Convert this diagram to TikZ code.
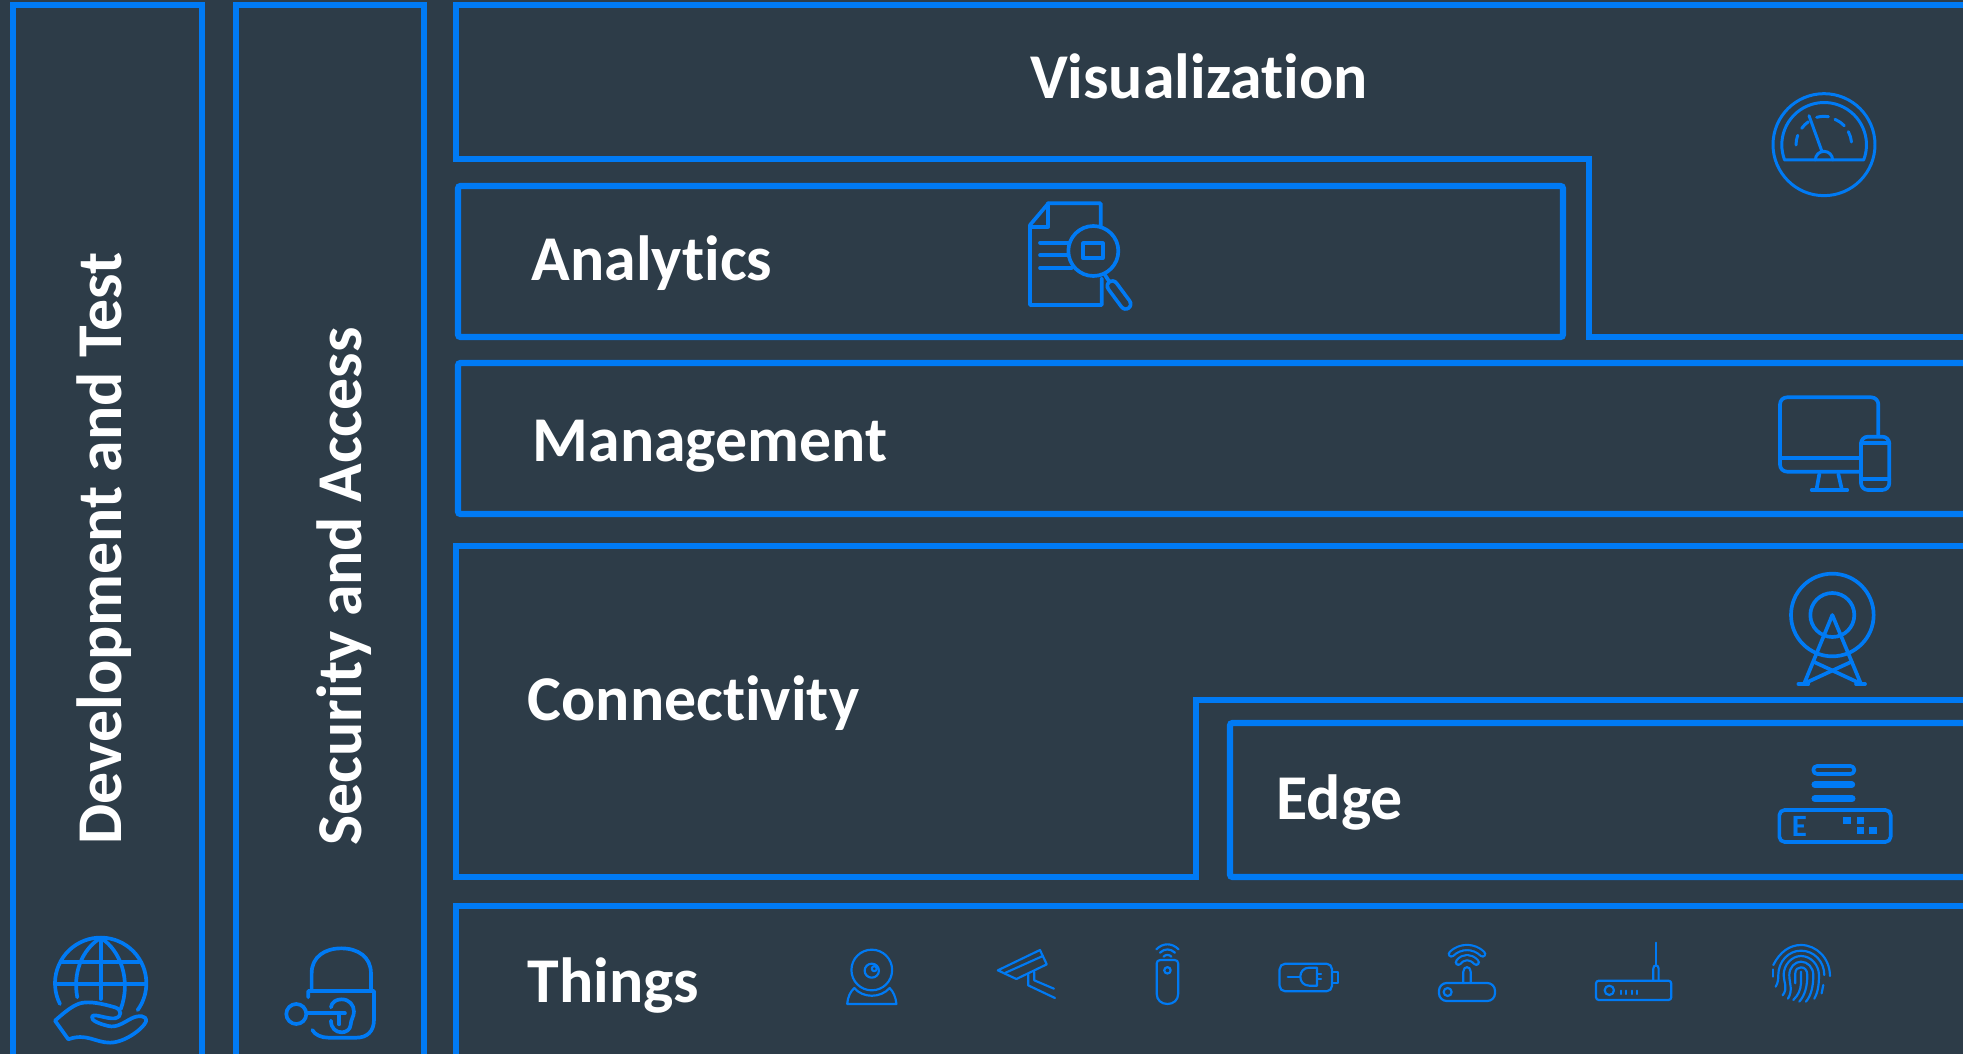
\documentclass[tikz,border=0pt]{standalone}
\usepackage{fontspec}
\setmainfont[Ligatures=NoCommon]{Carlito}
\definecolor{slatefill}{RGB}{45,60,72}
\definecolor{layerblue}{RGB}{0,122,244}
\tikzset{
  layer/.style={draw=layerblue,line width=1.75pt,miter limit=10},
  softlayer/.style={layer,rounded corners=0.7pt},
  title/.style={text=white,font=\fontsize{18.15}{20}\selectfont\bfseries,inner sep=0pt},
  icon/.style={draw=layerblue,line width=1.05pt,line cap=round,line join=round},
  thinicon/.style={icon,line width=0.62pt},
  iconarea/.style 2 args={shift={(#1,#2)},scale=0.3333}
}
\begin{document}
\begin{tikzpicture}[x=0.01cm,y=-0.01cm]
  \path[fill=slatefill,use as bounding box] (0,0) rectangle (1963,1054);

  \draw[layer] (13,1054) -- (13,5) -- (202,5) -- (202,1054);
  \draw[layer] (236,1054) -- (236,5) -- (424,5) -- (424,1054);
  \draw[layer] (1963,5) -- (456,5) -- (456,159) -- (1589,159) -- (1589,337) -- (1963,337);
  \draw[softlayer] (458,186) rectangle (1563,337);
  \draw[softlayer] (1963,363) -- (458,363) -- (458,514) -- (1963,514);
  \draw[layer] (1963,546) -- (456,546) -- (456,877) -- (1196,877) -- (1196,700) -- (1963,700);
  \draw[softlayer] (1963,723) -- (1230,723) -- (1230,877) -- (1963,877);
  \draw[layer] (1963,906) -- (456,906) -- (456,1054);

  \node[title,anchor=base] (visualization) at (1199,98) {Visualization};
  \node[title,anchor=base west] (analytics) at (531,280) {Analytics};
  \node[title,anchor=base west] (management) at (532,461) {Management};
  \node[title,anchor=base west] (connectivity) at (527,720) {Connectivity};
  \node[title,anchor=base west] (edge) at (1276,819) {Edge};
  \node[title,anchor=base west] (things) at (527,1002) {Things};
  \node[title,anchor=base west,rotate=90] (devtest) at (121,845) {Development and Test};
  \node[title,anchor=base west,rotate=90] (security) at (361,846) {Security and Access};

  \begin{scope}[iconarea={0}{900}]
    \draw[icon] (180,312) arc[start angle=153,end angle=396,radius=137];
    \draw[icon] (302,113) -- (302,297);
    \draw[icon] (185,185) -- (418,185);
    \draw[icon] (168,253) -- (436,253);
    \draw[icon] (300,115) .. controls (245,150) and (218,220) .. (232,292);
    \draw[icon] (304,115) .. controls (360,150) and (395,240) .. (362,328);
    \draw[icon] (165,362) -- (205,418) .. controls (260,398) and (285,428) .. (330,428) .. controls (375,428) and (430,385) .. (438,365) .. controls (442,345) and (415,345) .. (395,355) .. controls (370,368) and (350,384) .. (325,378) .. controls (300,372) and (272,362) .. (276,350) .. controls (280,338) and (320,358) .. (345,355) .. controls (368,350) and (365,328) .. (345,322) .. controls (310,312) and (270,302) .. (240,310) .. controls (215,318) and (190,340) .. (165,362);

    \draw[icon] (935,270) -- (935,220) .. controls (935,170) and (975,145) .. (1024,145) .. controls (1073,145) and (1113,170) .. (1113,220) -- (1113,272);
    \draw[icon] (925,292) -- (925,273) -- (1122,273) -- (1122,360) .. controls (1122,395) and (1100,413) .. (1070,413) -- (985,413) .. controls (965,413) and (945,405) .. (937,390);
    \draw[icon] (889,342) circle [radius=30];
    \draw[icon] (920,340) -- (1035,340);
    \draw[icon] (1018,340) -- (1018,373);
    \draw[icon] (993,322) .. controls (995,305) and (1010,298) .. (1025,298) .. controls (1048,298) and (1062,315) .. (1062,335) .. controls (1062,350) and (1052,360) .. (1052,375) .. controls (1050,390) and (1038,397) .. (1025,397) .. controls (1008,397) and (993,385) .. (993,362);
  \end{scope}

  \begin{scope}[iconarea={820}{920},xscale=1.0714]
    \draw[thinicon] (145,150) ellipse [x radius=57,y radius=61];
    \draw[thinicon] (145,152) ellipse [x radius=20,y radius=21];
    \draw[thinicon] (152,146) ellipse [x radius=7,y radius=7.5];
    \draw[thinicon] (76,252) -- (214,252) .. controls (212,230) and (205,215) .. (195,204) .. controls (170,235) and (120,235) .. (96,204) .. controls (85,215) and (78,230) .. (76,252);

    \draw[thinicon] (498,151) -- (616,90) -- (635,133) -- (550,177) -- cycle;
    \draw[thinicon] (520,158) -- (624,108);
    \draw[thinicon] (583,163) -- (583,196) -- (658,234);
    \draw[thinicon] (600,155) -- (600,181) -- (655,206);

    \draw[thinicon] (943,130) .. controls (943,124) and (947,120) .. (953,120) -- (993,120) .. controls (999,120) and (1003,124) .. (1003,130) -- (1003,222) .. controls (1003,240) and (990,252) .. (973,252) .. controls (956,252) and (943,240) .. (943,222) -- cycle;
    \draw[thinicon] (973,151) ellipse [x radius=9,y radius=9.6];
    \draw[thinicon] (942,88) .. controls (960,68) and (986,68) .. (1004,88);
    \draw[thinicon] (952,98) .. controls (965,85) and (981,85) .. (994,98);
    \draw[thinicon] (962,110) .. controls (968,103) and (978,103) .. (984,110);

    \draw[thinicon,rounded corners=1.6pt] (1287,131) rectangle (1434,214);
    \draw[thinicon] (1434,156) rectangle (1451,189);
    \draw[thinicon] (1310,170) -- (1345,170);
    \draw[thinicon] (1392,143) -- (1370,143) .. controls (1355,143) and (1345,155) .. (1345,170) .. controls (1345,185) and (1355,197) .. (1370,197) -- (1392,197) -- cycle;
    \draw[thinicon] (1392,162) -- (1403,162);
    \draw[thinicon] (1392,178) -- (1403,178);
  \end{scope}

  \begin{scope}[iconarea={1380}{920}]
    \draw[thinicon,rounded corners=2.2pt] (177,189) rectangle (345,243);
    \draw[thinicon] (203,216) circle [radius=12];
    \draw[thinicon] (250,189) -- (250,155) .. controls (250,137) and (272,137) .. (272,155) -- (272,189);
    \draw[thinicon,double=slatefill,double distance=0.85pt] (214,102) .. controls (240,76) and (282,76) .. (308,102);
    \draw[thinicon,double=slatefill,double distance=0.85pt] (235,127) .. controls (250,108) and (272,108) .. (289,127);

    \draw[thinicon,rounded corners=0.8pt] (648,182) rectangle (874,240);
    \draw[thinicon] (688,211) circle [radius=14];
    \draw[thinicon] (722,212) -- (722,222);
    \draw[thinicon] (737,212) -- (737,222);
    \draw[thinicon] (757,212) -- (757,222);
    \draw[thinicon] (771,212) -- (771,222);
    \draw[thinicon] (828,68) -- (828,136);
    \draw[thinicon] (820,182) -- (820,146) .. controls (820,133) and (836,133) .. (836,146) -- (836,182);

    \draw[thinicon] (1180,135) .. controls (1200,95) and (1230,75) .. (1263,75) .. controls (1310,75) and (1350,115) .. (1350,168);
    \draw[thinicon] (1178,148) -- (1178,170);
    \draw[thinicon] (1187,200) .. controls (1195,188) and (1195,175) .. (1195,165) .. controls (1195,125) and (1225,92) .. (1263,92) .. controls (1303,92) and (1333,125) .. (1333,165);
    \draw[thinicon] (1330,195) -- (1325,220);
    \draw[thinicon] (1208,226) .. controls (1225,205) and (1211,185) .. (1211,165) .. controls (1211,135) and (1235,108) .. (1263,108) .. controls (1293,108) and (1317,135) .. (1317,165) .. controls (1317,190) and (1315,215) .. (1303,236);
    \draw[thinicon] (1224,236) .. controls (1240,210) and (1228,190) .. (1228,165) .. controls (1228,142) and (1245,125) .. (1263,125) .. controls (1283,125) and (1300,142) .. (1300,165) .. controls (1300,195) and (1295,225) .. (1278,245);
    \draw[thinicon] (1246,190) -- (1246,160) .. controls (1246,148) and (1254,142) .. (1263,142) .. controls (1274,142) and (1282,150) .. (1282,165) .. controls (1282,200) and (1275,225) .. (1258,245);
    \draw[thinicon] (1263,155) -- (1263,190) .. controls (1262,210) and (1255,225) .. (1240,240);
  \end{scope}

  \begin{scope}[iconarea={1740}{60}]
    \draw[icon,line width=0.85pt] (252,254) circle [radius=153];
    \draw[icon,line width=0.85pt] (133,300) -- (371,300) arc[start angle=21,end angle=-201,radius=127] -- cycle;
    \draw[icon,line width=0.85pt] (168,255) arc[start angle=180,end angle=200,radius=85];
    \draw[icon,line width=0.85pt] (185,205) arc[start angle=216,end angle=235,radius=85];
    \draw[icon,line width=0.85pt] (230,172) arc[start angle=255,end angle=279,radius=85];
    \draw[icon,line width=0.85pt] (285,178) arc[start angle=293,end angle=316,radius=85];
    \draw[icon,line width=0.85pt] (325,215) arc[start angle=332,end angle=354,radius=85];
    \draw[icon,line width=0.85pt] (207,167) -- (245,272);
    \draw[icon,line width=0.85pt] (226,300) arc[start angle=180,end angle=360,radius=26];
  \end{scope}

  \begin{scope}[iconarea={1010}{180}]
    \draw[icon] (272,140) -- (272,70) -- (115,70) -- (60,135) -- (60,375) -- (275,375) -- (275,295);
    \draw[icon] (115,70) -- (115,140) -- (60,140);
    \draw[icon] (90,188) -- (175,188);
    \draw[icon] (90,226) -- (172,226);
    \draw[icon] (90,264) -- (185,264);
    \draw[icon] (250,213) circle [radius=75];
    \draw[icon] (220,190) rectangle (278,235);
    \draw[icon] (285,285) -- (298,305);
    \draw[icon,double=slatefill,double distance=1.8pt] (307,318) -- (347,372);
  \end{scope}

  \begin{scope}[iconarea={1760}{380}]
    \draw[icon,rounded corners=2pt] (298,275) -- (60,275) -- (60,52) -- (355,52) -- (355,165);
    \draw[icon] (60,233) -- (298,233);
    \draw[icon] (178,282) -- (170,326);
    \draw[icon] (235,282) -- (245,326);
    \draw[icon] (155,330) -- (262,330);
    \draw[icon,rounded corners=2pt] (303,170) rectangle (388,330);
    \draw[icon] (303,190) -- (388,190);
    \draw[icon] (303,298) -- (388,298);
  \end{scope}

  \begin{scope}[iconarea={1760}{560}]
    \draw[icon] (217,165) circle [radius=124];
    \draw[icon] (217,165) circle [radius=66];
    \draw[icon] (132,372) -- (217,165) -- (303,372);
    \draw[icon] (115,372) -- (145,372);
    \draw[icon] (288,372) -- (315,372);
    \draw[icon] (160,305) -- (300,370);
    \draw[icon] (275,305) -- (134,370);
    \draw[icon,rounded corners=1.1pt] (160,618) rectangle (283,642);
    \draw[icon,line width=2pt] (165,674) -- (275,674);
    \draw[icon,line width=2pt] (165,716) -- (276,716);
    \draw[icon,rounded corners=1.5pt] (58,750) rectangle (392,846);
    \fill[layerblue] (250,772) rectangle (272,792);
    \fill[layerblue] (291,772) rectangle (312,792);
    \fill[layerblue] (291,802) rectangle (312,822);
    \fill[layerblue] (327,802) rectangle (350,822);
    \node[anchor=base,text=layerblue,font=\fontsize{8.8}{10}\selectfont\bfseries,inner sep=0pt] (edgemark) at (118,829) {E};
  \end{scope}
\end{tikzpicture}
\end{document}
